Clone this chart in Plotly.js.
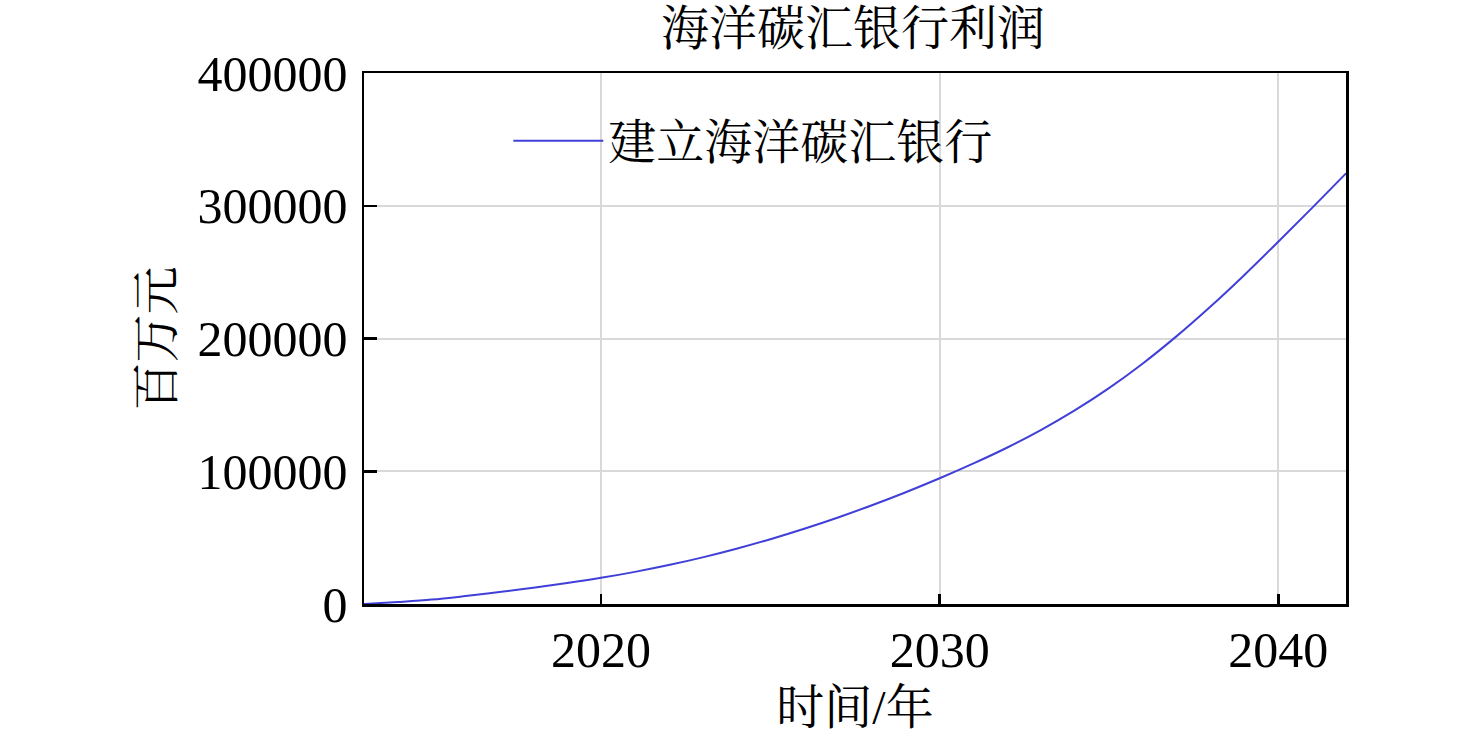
<!DOCTYPE html>
<html>
<head>
<meta charset="utf-8">
<script src="https://cdn.plot.ly/plotly-3.0.1.min.js"></script>
<style>html,body{margin:0;padding:0;background:#fff;}#chart{width:1476px;height:734px;}</style>
</head>
<body>
<div id="chart"></div>
<script>
const years = [2013,2014,2015,2016,2017,2018,2019,2020,2021,2022,2023,2024,2025,2026,2027,2028,2029,2030,2031,2032,2033,2034,2035,2036,2037,2038,2039,2040,2041,2042];
const profit = [0,1500,3300,6000,9000,12300,15800,19700,24200,29300,35100,41600,48800,56700,65200,74400,84200,94700,105900,117900,131200,146000,162600,181200,201800,224100,247900,272900,298400,324400];
const seriesName = '建立海洋碳汇银行';
const chartTitle = '海洋碳汇银行利润';
const xTitle = '时间/年';
const yTitle = '百万元';
const yTicks = [0,100000,200000,300000,400000];
const xTicks = [2020,2030,2040];

const fontFam = '"Liberation Serif", "Times New Roman", "Noto Serif CJK SC", "Noto Sans CJK SC", serif';

const trace = {
  x: years, y: profit, type: 'scatter', mode: 'lines', name: seriesName,
  line: {color: '#4040d8', width: 2, shape: 'spline'}
};

const layout = {
  width: 1476, height: 734,
  margin: {l: 364, r: 130, t: 73, b: 130},
  paper_bgcolor: '#fff', plot_bgcolor: '#fff',
  font: {family: fontFam, size: 48, color: '#000'},
  title: {text: chartTitle, x: 0.578, xanchor: 'center', y: 0.962, yanchor: 'middle', font: {size: 48}},
  showlegend: true,
  legend: {x: 0.147, xanchor: 'left', y: 0.872, yanchor: 'middle', bgcolor: 'rgba(0,0,0,0)', font: {size: 48}, itemwidth: 90},
  xaxis: {
    range: [2013, 2042], tickvals: xTicks, ticktext: xTicks.map(String),
    showgrid: true, gridcolor: '#d9d9d9', gridwidth: 2,
    showline: true, linecolor: '#000', linewidth: 2.5, mirror: true,
    ticks: 'inside', ticklen: 10, tickwidth: 2.5, tickcolor: '#000',
    zeroline: false, tickfont: {size: 50},
    title: {text: xTitle, font: {size: 48}, standoff: 14}
  },
  yaxis: {
    range: [0, 400000], tickvals: yTicks, ticktext: yTicks.map(String),
    showgrid: true, gridcolor: '#d9d9d9', gridwidth: 2,
    showline: true, linecolor: '#000', linewidth: 2.5, mirror: true,
    ticks: 'inside', ticklen: 13, tickwidth: 2.5, tickcolor: '#000',
    zeroline: false, tickfont: {size: 50}, ticklabelstandoff: 4,
    title: {text: yTitle, font: {size: 48}, standoff: 9}
  }
};

Plotly.newPlot('chart', [trace], layout, {staticPlot: true});
</script>
</body>
</html>
